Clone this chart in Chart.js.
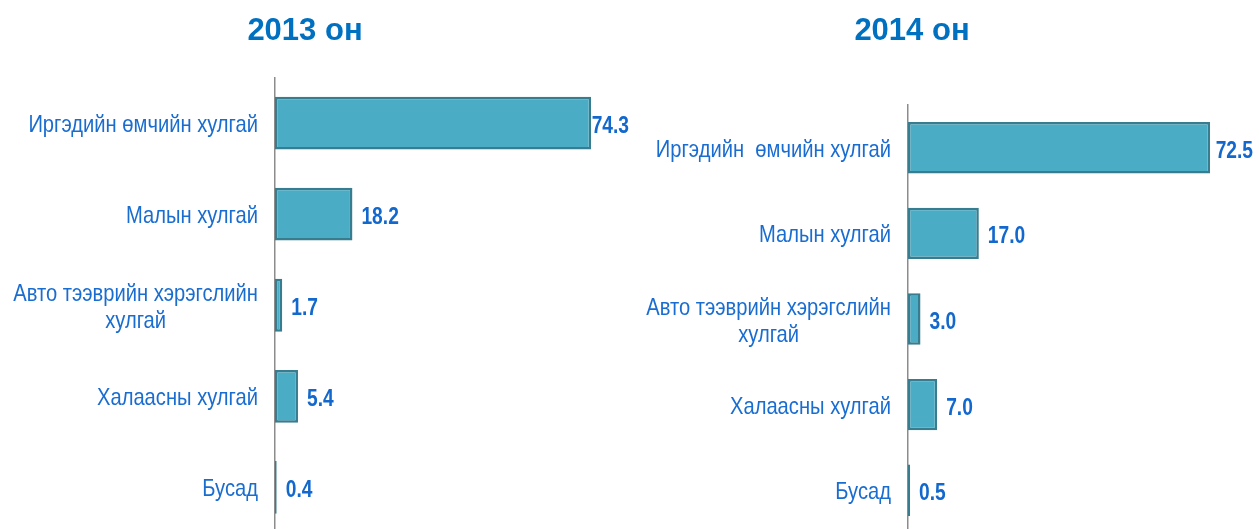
<!DOCTYPE html>
<html>
<head>
<meta charset="utf-8">
<script src="https://cdn.jsdelivr.net/npm/chart.js@4.4.1/dist/chart.umd.min.js"></script>
<style>
  html, body { margin: 0; padding: 0; background: #fff; overflow: hidden; }
  body { width: 1259px; height: 529px; position: relative; }
  .box { position: absolute; top: 0; height: 533px; }
</style>
</head>
<body>
<div class="box" style="left:-19px;width:648px"><canvas id="chart2013"></canvas></div>
<div class="box" style="left:571px;width:682px"><canvas id="chart2014"></canvas></div>
<script>
// données
const categories2013 = [
    'Иргэдийн өмчийн хулгай',
    'Малын хулгай',
    ['Авто тээврийн хэрэгслийн', 'хулгай'],
    'Халаасны хулгай',
    'Бусад'
];
const values2013 = [74.3, 18.2, 1.7, 5.4, 0.4];

const categories2014 = [
    'Иргэдийн  өмчийн хулгай',
    'Малын хулгай',
    ['Авто тээврийн хэрэгслийн', 'хулгай'],
    'Халаасны хулгай',
    'Бусад'
];
const values2014 = [72.5, 17.0, 3.0, 7.0, 0.5];

const FONT = '"Liberation Sans", Arial, sans-serif';
const NARROW = 0.84; // pas d'Arial Narrow installée : on compresse à l'horizontale

// texte compressé horizontalement
function narrowText(ctx, txt, x, y, align, sx) {
    const w = ctx.measureText(txt).width * sx;
    let left = x;
    if (align === 'center') left = x - w / 2;
    if (align === 'right') left = x - w;
    ctx.save();
    ctx.translate(left, y);
    ctx.scale(sx, 1);
    ctx.textAlign = 'left';
    ctx.fillText(txt, 0, 0);
    ctx.restore();
}

// libellés des catégories (alignés à droite, lignes centrées entre elles)
const categoryLabels = {
    id: 'categoryLabels',
    afterDraw(chart) {
        const ctx = chart.ctx;
        const yScale = chart.scales.y;
        const right = chart.chartArea.left - 17;
        ctx.save();
        ctx.font = '24px ' + FONT;
        ctx.fillStyle = '#1a6dd0';
        ctx.textBaseline = 'alphabetic';
        chart.data.labels.forEach((lab, i) => {
            const lines = Array.isArray(lab) ? lab : [lab];
            const w = Math.max(...lines.map(l => ctx.measureText(l).width)) * NARROW;
            const cx = right - w / 2;
            const cy = yScale.getPixelForTick(i) + 9;
            lines.forEach((l, k) => {
                narrowText(ctx, l, cx, cy + (k - (lines.length - 1) / 2) * 27, 'center', NARROW);
            });
        });
        ctx.restore();
    }
};

// valeurs au bout des barres
const valueLabels = {
    id: 'valueLabels',
    afterDatasetsDraw(chart) {
        const ctx = chart.ctx;
        const meta = chart.getDatasetMeta(0);
        const data = chart.data.datasets[0].data;
        ctx.save();
        ctx.font = 'bold 24px ' + FONT;
        ctx.fillStyle = '#1268cc';
        ctx.textBaseline = 'alphabetic';
        meta.data.forEach((bar, i) => {
            const txt = data[i].toFixed(1);
            const w = ctx.measureText(txt).width * 0.8;
            const x = Math.min(bar.x + 9, chart.chartArea.right - w);
            narrowText(ctx, txt, x, bar.y + 10, 'left', 0.8);
        });
        ctx.restore();
    }
};

function createBarChart(canvasId, labels, data, title, xMax, axisWidth, titleGap, barPct) {
    const ctx = document.getElementById(canvasId);
    if (!ctx) return;
    new Chart(ctx, {
        type: 'bar',
        data: {
            labels: labels,
            datasets: [{
                data: data,
                backgroundColor: '#4bacc6',
                borderColor: '#387c8f',
                borderWidth: 2.5,
                borderSkipped: false,
                barPercentage: barPct,
                categoryPercentage: 1
            }]
        },
        options: {
            indexAxis: 'y',
            responsive: true,
            maintainAspectRatio: false,
            animation: false,
            layout: { padding: 0 },
            plugins: {
                legend: { display: false },
                tooltip: { enabled: false },
                title: {
                    display: true,
                    text: title,
                    color: '#0070c0',
                    font: { family: FONT, size: 31, weight: 'bold' },
                    padding: { top: 13, bottom: titleGap }
                }
            },
            scales: {
                x: { display: false, min: 0, max: xMax },
                y: {
                    grid: { display: false },
                    ticks: { display: false },
                    border: { display: true, color: '#8c8c8c', width: 1.5 },
                    afterFit: s => { s.width = axisWidth; }
                }
            }
        },
        plugins: [categoryLabels, valueLabels]
    });
}

createBarChart('chart2013', categories2013, values2013, '2013 он', 83.2, 294, 27.3, 0.58);
createBarChart('chart2014', categories2014, values2014, '2014 он', 82.8, 337, 54.8, 0.6);
</script>
</body>
</html>
